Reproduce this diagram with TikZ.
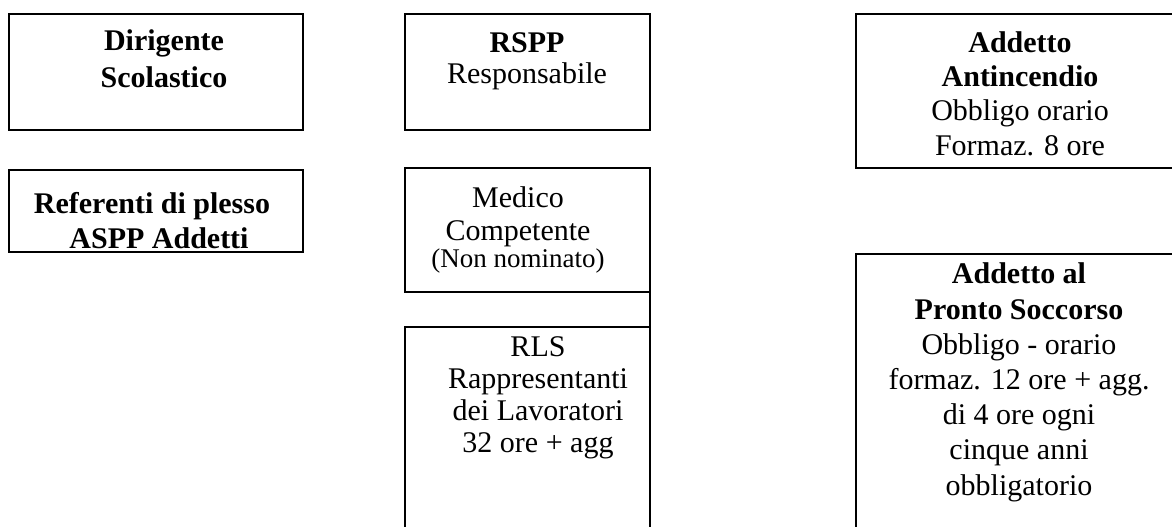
\documentclass[tikz,border=0pt]{standalone}
\usepackage{fontspec}
\setmainfont{Liberation Serif}
\begin{document}
\begin{tikzpicture}[x=1pt,y=-1pt,
  box/.style={draw, line width=1.4pt, anchor=north west, inner sep=0pt, outer sep=0pt},
  lbl/.style={align=center, anchor=base, inner sep=0pt, font=\fontsize{30pt}{#1}\selectfont},
  link/.style={draw, line width=1.4pt}]
\useasboundingbox (0,0) rectangle (1172,527);
\clip (0,0) rectangle (1172,527);
% boxes
\node[box, minimum width=294pt, minimum height=116pt] (dir) at (9,14) {};
\node[box, minimum width=294pt, minimum height=82pt] (ref) at (9,170) {};
\node[box, minimum width=245pt, minimum height=116pt] (rspp) at (405,14) {};
\node[box, minimum width=245pt, minimum height=124pt] (med) at (405,168) {};
\node[box, minimum width=245pt, minimum height=220pt] (rls) at (405,327) {};
\node[box, minimum width=330pt, minimum height=154pt] (anti) at (856,14) {};
\node[box, minimum width=330pt, minimum height=300pt] (pronto) at (856,254) {};
\draw[link] (med.south east) -- (rls.north east);
% labels (anchored at the baseline of their last line)
\node[lbl=36pt] (tdir) at (164,87) {\textbf{Dirigente}\\\textbf{Scolastico}};
\node[lbl=35pt] (tref) at (152,248) {\textbf{Referenti di plesso}\\\hspace*{14pt}\textbf{ASPP Addetti}};
\node[lbl=31pt] (trspp) at (527,83) {\textbf{RSPP}\\Responsabile};
\node[lbl=33pt] (tmed) at (518,267) {Medico\\Competente\\[-6pt]{\fontsize{27pt}{27pt}\selectfont (Non nominato)}};
\node[lbl=31.7pt] (trls) at (538,452) {RLS\\Rappresentanti\\dei Lavoratori\\32 ore + agg};
\node[lbl=34.3pt] (tanti) at (1020,155) {\textbf{Addetto}\\\textbf{Antincendio}\\Obbligo orario\\Formaz. 8 ore};
\node[lbl=35.2pt] (tpronto) at (1019,495) {\textbf{Addetto al}\\\textbf{Pronto Soccorso}\\Obbligo - orario\\formaz. 12 ore + agg.\\di 4 ore ogni\\cinque anni\\obbligatorio};
\end{tikzpicture}
\end{document}
